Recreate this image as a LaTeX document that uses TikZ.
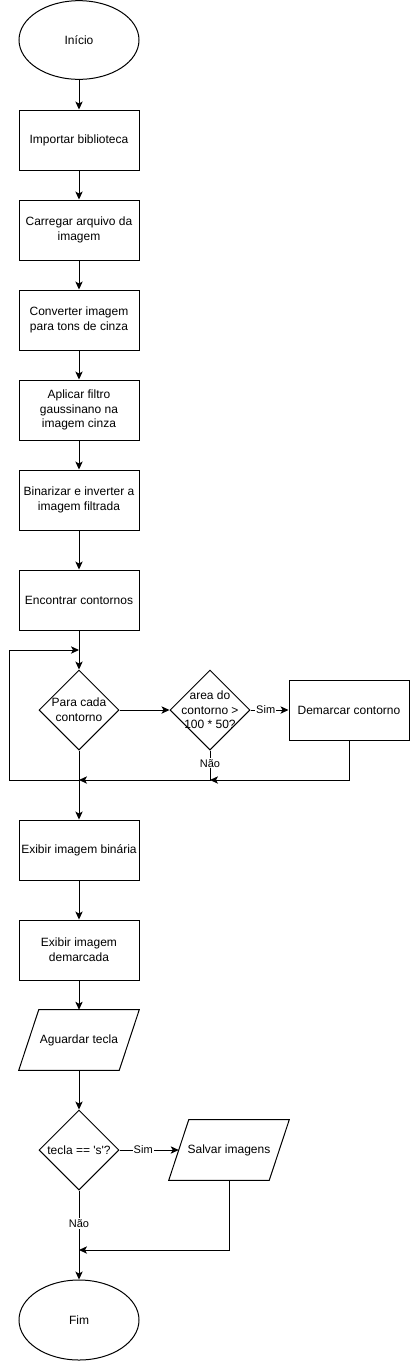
\documentclass[tikz,border=0pt]{standalone}
\usepackage{fontspec}
\setmainfont{Liberation Sans}
\usetikzlibrary{shapes.geometric,arrows.meta,calc}
\begin{document}
\begin{tikzpicture}[x=0.75pt,y=-0.75pt,
  every node/.style={font=\fontsize{9pt}{11pt}\selectfont, align=center},
  box/.style={draw, line width=0.75pt, minimum width=90pt, minimum height=45pt, inner sep=0pt},
  term/.style={draw, ellipse, line width=0.75pt, minimum width=90pt, minimum height=59pt, inner sep=0pt},
  dec/.style={draw, diamond, line width=0.75pt, minimum width=60pt, minimum height=60pt, inner sep=0pt},
  io/.style={minimum width=90pt, minimum height=45pt, inner sep=0pt},
  ln/.style={line width=0.75pt},
  arr/.style={line width=0.75pt, -{Stealth[length=6pt,width=5.5pt,inset=1.5pt]}},
  elab/.style={fill=white, inner sep=0.8pt, font=\fontsize{8.25pt}{9.9pt}\selectfont}
]
\useasboundingbox (0,0) rectangle (410,1361);

\node[term] (ini) at (79,40) {Início};
\node[box] (imp) at (79,140) {Importar biblioteca};
\node[box] (car) at (79,230) {Carregar arquivo da\\imagem};
\node[box] (con) at (79,320) {Converter imagem\\para tons de cinza};
\node[box] (apl) at (79,410) {Aplicar filtro\\gaussinano na\\imagem cinza};
\node[box] (bin) at (79,500) {Binarizar e inverter a\\imagem filtrada};
\node[box] (enc) at (79,600) {Encontrar contornos};
\node[dec, label=center:{Para cada\\contorno}] (para) at (79,710) {};
\node[dec, label=center:{area do\\contorno >\\100 * 50?}] (area) at (210,710) {};
\node[box] (dem) at (349,710) {Demarcar contorno};
\node[box] (ex1) at (79,850) {Exibir imagem binária};
\node[box] (ex2) at (79,950) {Exibir imagem\\demarcada};
\node[io] (ag) at (79,1040) {Aguardar tecla};
\node[dec, label=center:{tecla == \textquotesingle s\textquotesingle ?}] (tecla) at (79,1150) {};
\node[io] (sal) at (229,1150) {Salvar imagens};
\node[term, minimum height=60pt] (fim) at (79,1320) {Fim};

% parallelograms
\draw[ln] (ag.south west) -- ($(ag.north west)+(20,0)$) -- (ag.north east) -- ($(ag.south east)+(-20,0)$) -- cycle;
\draw[ln] (sal.south west) -- ($(sal.north west)+(20,0)$) -- (sal.north east) -- ($(sal.south east)+(-20,0)$) -- cycle;

% junction coordinates
\coordinate (jT) at (79,650);
\coordinate (lT) at (9,650);
\coordinate (lB) at (9,780);
\coordinate (jL) at (79,780);
\coordinate (jA) at (210,780);
\coordinate (salin) at ($(sal.west)+(10,0)$);
\coordinate (jF) at (79,1250);

% main flow
\draw[arr] (ini) -- (imp);
\draw[arr] (imp) -- (car);
\draw[arr] (car) -- (con);
\draw[arr] (con) -- (apl);
\draw[arr] (apl) -- (bin);
\draw[arr] (bin) -- (enc);
\draw[arr] (enc) -- (para);
\draw[arr] (para.east) -- (area.west);
\draw[arr] (area.east) -- node[elab, pos=0.4] {Sim} (dem.west);
\draw[arr] (dem.south) |- (jA);
\draw[arr] (area.south) -- node[elab, pos=0.43] {Não} (jA) -- (jL);
\draw[arr] (jL) -- (lB) -- (lT) -- (jT);
\draw[arr] (para.south) -- (ex1.north);
\draw[arr] (ex1) -- (ex2);
\draw[arr] (ex2) -- (ag);
\draw[arr] (ag.south) -- (tecla.north);
\draw[arr] (tecla.east) -- node[elab, pos=0.4] {Sim} (salin);
\draw[arr] (tecla.south) -- node[elab, pos=0.37] {Não} (fim.north);
\draw[arr] (sal.south) |- (jF);
\end{tikzpicture}
\end{document}
